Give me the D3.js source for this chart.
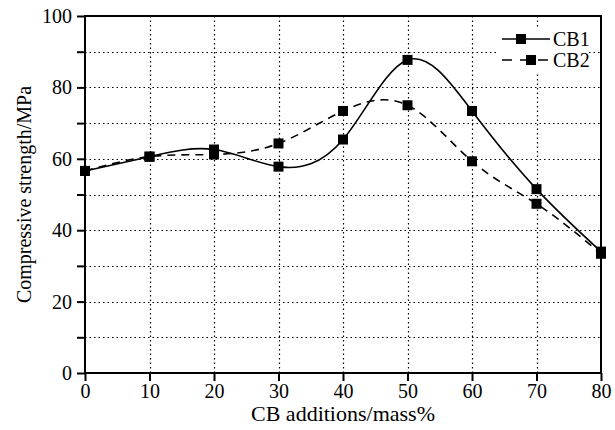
<!DOCTYPE html>
<html>
<head>
<meta charset="utf-8">
<script src="https://cdn.jsdelivr.net/npm/d3@7"></script>
<style>
  body { margin: 0; background: #fff; }
  svg { display: block; font-family: "Liberation Serif", "Times New Roman", serif; }
</style>
</head>
<body>
<div id="chart"></div>
<script>
// data
let additions = [0, 10, 20, 30, 40, 50, 60, 70, 80];
let cb1 = [56.6, 60.6, 62.6, 57.8, 65.4, 87.7, 73.4, 51.5, 34.0];
let cb2 = [56.6, 60.6, 61.2, 64.3, 73.4, 75.0, 59.3, 47.4, 33.4];
let seriesNames = ["CB1", "CB2"];
let xTicks = [0, 10, 20, 30, 40, 50, 60, 70, 80];
let yTicks = [0, 20, 40, 60, 80, 100];
let yMinor = [10, 30, 50, 70, 90];

let W = 615, H = 430;
let margin = {top: 16, right: 14, bottom: 57, left: 85};

let svg = d3.select("#chart").append("svg")
  .attr("width", W)
  .attr("height", H);

let x = d3.scaleLinear().domain([0, 80]).range([margin.left, W - margin.right]);
let y = d3.scaleLinear().domain([0, 100]).range([H - margin.bottom, margin.top]);

let snap = v => Math.round(v) + 0.5;

// dotted grid
let grid = svg.append("g").attr("class", "grid");
xTicks.slice(1, -1).forEach(v => {
  grid.append("line")
    .attr("x1", snap(x(v))).attr("x2", snap(x(v)))
    .attr("y1", y(0)).attr("y2", y(100))
    .attr("stroke", "#000").attr("stroke-width", 1.2)
    .attr("stroke-dasharray", "1.5,3");
});
yTicks.concat(yMinor).filter(v => v > 0 && v < 100).forEach(v => {
  grid.append("line")
    .attr("x1", x(0)).attr("x2", x(80))
    .attr("y1", snap(y(v))).attr("y2", snap(y(v)))
    .attr("stroke", "#000").attr("stroke-width", 1.2)
    .attr("stroke-dasharray", "1.5,3");
});

// axes
let xAxis = svg.append("g")
  .attr("transform", `translate(0,${y(0)})`)
  .call(d3.axisBottom(x).tickValues(xTicks).tickSize(8).tickPadding(3));
let yAxis = svg.append("g")
  .attr("transform", `translate(${x(0)},0)`)
  .call(d3.axisLeft(y).tickValues(yTicks.concat(yMinor)).tickSize(8).tickPadding(5)
    .tickFormat(d => yTicks.includes(d) ? d : ""));

[xAxis, yAxis].forEach(a => {
  a.select(".domain").remove();
  a.selectAll("line").attr("stroke", "#000").attr("stroke-width", 2);
  a.selectAll("text")
    .attr("fill", "#000")
    .style("font-family", "Liberation Serif")
    .style("font-size", "20px");
});

// frame
svg.append("rect")
  .attr("x", x(0)).attr("y", y(100))
  .attr("width", x(80) - x(0)).attr("height", y(0) - y(100))
  .attr("fill", "none").attr("stroke", "#000").attr("stroke-width", 2);

// axis titles
svg.append("text")
  .attr("x", (x(0) + x(80)) / 2)
  .attr("y", 421)
  .attr("text-anchor", "middle")
  .attr("fill", "#000")
  .style("font-size", "22px")
  .text("CB additions/mass%");

svg.append("text")
  .attr("transform", `translate(31,${(y(0) + y(100)) / 2}) rotate(-90)`)
  .attr("text-anchor", "middle")
  .attr("fill", "#000")
  .style("font-size", "20px")
  .text("Compressive strength/MPa");

// series
let line = d3.line()
  .x((d, i) => x(additions[i]))
  .y(d => y(d))
  .curve(d3.curveNatural);

let series = [
  {name: seriesNames[0], values: cb1, dash: null},
  {name: seriesNames[1], values: cb2, dash: "8,6"}
];

series.forEach(s => {
  svg.append("path")
    .attr("d", line(s.values))
    .attr("fill", "none")
    .attr("stroke", "#000")
    .attr("stroke-width", 1.6)
    .attr("stroke-dasharray", s.dash);
  svg.append("g").selectAll("rect")
    .data(s.values)
    .enter()
    .append("rect")
      .attr("x", (d, i) => x(additions[i]) - 5)
      .attr("y", d => y(d) - 5)
      .attr("width", 10)
      .attr("height", 10)
      .attr("fill", "#000");
});

// legend
let legend = svg.append("g");
legend.append("rect")
  .attr("x", 497).attr("y", 27)
  .attr("width", 92).attr("height", 45)
  .attr("fill", "#fff");

series.forEach((s, i) => {
  let ly = 39 + i * 21;
  let g = legend.append("g");
  g.append("line")
    .attr("x1", 502).attr("x2", 550)
    .attr("y1", ly).attr("y2", ly)
    .attr("stroke", "#000").attr("stroke-width", 1.6)
    .attr("stroke-dasharray", s.dash ? "10,8" : null);
  g.append("rect")
    .attr("x", (i == 0 ? 521 : 531) - 5)
    .attr("y", ly - 5)
    .attr("width", 10).attr("height", 10)
    .attr("fill", "#000");
  g.append("text")
    .attr("x", 553).attr("y", ly + 7)
    .attr("fill", "#000")
    .style("font-size", "20px")
    .text(s.name);
});
</script>
</body>
</html>
